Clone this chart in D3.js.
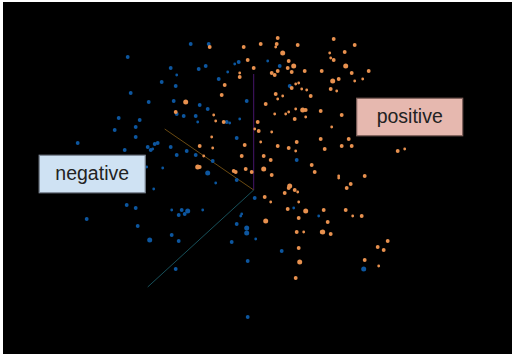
<!DOCTYPE html>
<html>
<head>
<meta charset="utf-8">
<script src="https://cdn.jsdelivr.net/npm/d3@7"></script>
<style>
  html, body { margin: 0; padding: 0; background: #fff; }
  svg { display: block; }
</style>
</head>
<body>
<div id="chart"></div>
<script>
/* Projected embedding values, origin at the meeting point of the three axes.
   Each row is [x, y, weight]; weight only drives the dot size. */
const negativePoints = [
  [-63,146,1],[-45,146,1],[-126,133,1],[-83,122,1],[-77,115,0],[-55,121,1],[-48,124,1],[-19,126,0],
  [-15,128,1],[-26,118,0],[-35,111,1],[-92,108,1],[-78,104,1],[-123,97,1],[-105,88,1],[-80,89,1],
  [-54,85,1],[-46,81,1],[-7,89,1],[-77,76,1],[-70,74,1],[-58,74,1],[-56,68,0],[-135,72,1],
  [-114,70,1],[-118,63,1],[-139,60,1],[-118,53,1],[-27,68,1],[-24,67,0],[-14,71,0],[-17,52,1],
  [-176,47,1],[-106,43,1],[-99,46,1],[-96,47,1],[-101,41,0],[-103,40,1],[-129,40,1],[-83,43,1],
  [-77,35,1],[-67,39,1],[-58,35,1],[-41,29,1],[-107,23,0],[-91,22,0],[-46,17,2],
  [14,129,0],[26,124,1],[36,104,1],[43,30,1],[-100,1,0],[-38,7,0],[-17,10,1],[-127,-15,1],
  [-118,-18,1],[-82,-20,0],[-72,-20,1],[-66,-21,2],[-69,-24,1],[-75,-25,1],[-51,-20,0],[1,-8,1],
  [-12,-24,0],[-13,-26,0],[-17,-34,1],[-7,-38,2],[-7,-43,2],[2,-49,0],[-167,-29,1],[-116,-36,1],
  [-82,-45,1],[-104,-50,2],[-75,-51,1],[-22,-52,1],[-6,-71,1],[-78,-79,1],[-6,-127,1],
  [40,-18,0],[65,-26,0],[28,-61,1],[110,-79,2]
];
const positivePoints = [
  [-44,143,1],[-10,143,1],[-6,130,1],[0,122,1],[-14,117,0],[-14,113,1],[-29,105,1],[-32,95,1],
  [-68,88,2],[-78,78,1],[-40,75,0],[-38,69,0],[-30,68,1],[1,61,0],[-42,53,0],[-9,45,1],
  [-54,44,1],[-41,42,0],[-50,34,0],[-56,23,2],[-12,34,1],[-54,23,1],[-20,19,1],[-18,18,1],
  [-8,21,1],[-2,18,1],
  [24,152,1],[7,146,1],[23,146,1],[22,143,0],[44,145,1],[80,151,1],[101,145,1],[29,137,2],
  [76,137,0],[91,138,1],[77,132,0],[80,130,1],[35,129,1],[40,124,2],[34,122,1],[92,124,2],
  [18,117,1],[24,119,1],[21,115,1],[38,118,1],[51,119,1],[68,119,1],[98,117,1],[115,119,1],
  [109,111,0],[85,111,1],[79,109,2],[101,109,0],[42,106,0],[45,107,0],[38,102,1],[48,101,0],
  [53,100,0],[77,101,1],[83,99,0],[22,96,1],[29,94,0],[57,94,1],[24,91,0],[12,86,1],
  [42,81,0],[49,80,2],[52,80,1],[67,79,1],[35,78,0],[32,76,0],[21,76,0],[41,71,1],
  [52,73,0],[88,75,1],[4,68,1],[78,63,0],[5,59,1],[18,58,0],[67,51,1],[95,51,1],
  [7,48,0],[43,48,1],[24,44,1],[35,42,1],[42,39,0],[71,41,1],[88,44,1],[98,44,1],
  [144,39,1],[151,41,0],[10,34,1],[17,30,1],[58,25,1],[10,21,2],[61,18,1],[18,15,1],
  [85,14,0],[111,14,1],[85,12,0],
  [97,6,1],[93,2,1],[36,4,2],[35,2,1],[31,-3,1],[41,0,1],[44,-2,0],[11,-7,1],
  [17,-12,0],[45,-12,0],[34,-19,1],[52,-21,2],[70,-20,1],[92,-20,1],[99,-26,0],[108,-26,1],
  [45,-28,1],[74,-32,1],[12,-31,2],[43,-42,1],[50,-42,0],[68,-42,1],[69,-42,2],[77,-44,1],
  [134,-51,1],[124,-57,1],[130,-60,1],[45,-58,1],[111,-70,1],[46,-72,2],[125,-76,0],[42,-88,1]
];
/* Axis ends, same units */
const axisEnds = [
  { name: "up", x: 0, y: 116, color: "#47156b" },
  { name: "left", x: -89, y: 61, color: "#6a4a12" },
  { name: "down", x: -106, y: -97, color: "#17505a" }
];
const labels = [
  { text: "positive", x: 156, y: 73, fill: "#e6b8af", stroke: "#7d5f5a" },
  { text: "negative", x: -161.5, y: 16, fill: "#cfe2f3", stroke: "#7c8794" }
];

const W = 512, H = 356;
const plot = { left: 3, top: 2, right: 512, bottom: 354 };

const svg = d3.select("#chart").append("svg")
  .attr("width", W).attr("height", H)
  .style("font-family", "'Liberation Sans', Arial, sans-serif");

/* The reference looks like a resized screenshot, so the marks get a slight blur */
svg.append("defs").append("filter").attr("id", "soft")
  .append("feGaussianBlur").attr("stdDeviation", 0.35);

svg.append("rect")
  .attr("x", plot.left).attr("y", plot.top)
  .attr("width", plot.right - plot.left).attr("height", plot.bottom - plot.top)
  .attr("fill", "#000");

const x = d3.scaleLinear().domain([-250.7, 258.3]).range([plot.left, plot.right]);
const y = d3.scaleLinear().domain([-164, 188]).range([plot.bottom, plot.top]);
const r = d3.scaleLinear().domain([0, 2]).range([1.4, 2.5]);

axisEnds.forEach(a => {
  svg.append("line")
    .attr("x1", x(0)).attr("y1", y(0))
    .attr("x2", x(a.x)).attr("y2", y(a.y))
    .attr("stroke", a.color).attr("stroke-width", 1);
});

const dots = (data, color) => svg.append("g").attr("filter", "url(#soft)")
  .selectAll("circle").data(data).enter().append("circle")
  .attr("cx", d => x(d[0])).attr("cy", d => y(d[1]))
  .attr("r", d => r(d[2])).attr("fill", color);

dots(negativePoints, "#0c569f");
dots(positivePoints, "#e8914f");

/* Text boxes */
const boxW = 106, boxH = 37.5;
labels.forEach(l => {
  svg.append("rect")
    .attr("x", x(l.x) - boxW / 2).attr("y", y(l.y) - boxH / 2)
    .attr("width", boxW).attr("height", boxH)
    .attr("fill", l.fill).attr("stroke", l.stroke).attr("stroke-width", 1.2);
  svg.append("text")
    .attr("x", x(l.x)).attr("y", y(l.y) + 6)
    .attr("text-anchor", "middle")
    .style("font-size", "19.5px").style("fill", "#222")
    .text(l.text);
});
</script>
</body>
</html>
